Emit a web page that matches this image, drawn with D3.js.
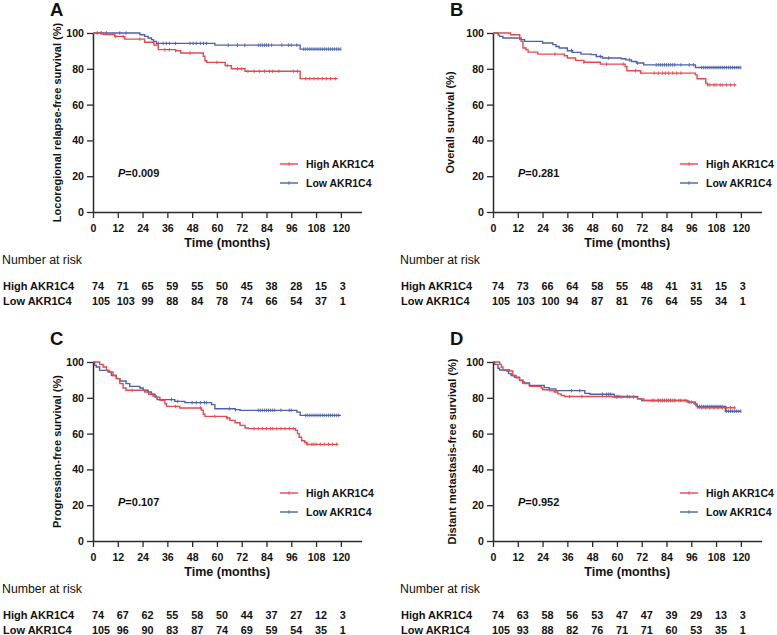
<!DOCTYPE html>
<html><head><meta charset="utf-8">
<script src="https://cdn.jsdelivr.net/npm/d3@7"></script>
<style>
body{margin:0;background:#fff;}
text{font-family:"Liberation Sans",Arial,Helvetica,sans-serif;}
</style></head><body>
<svg id="c" width="777" height="635"></svg>
<script>
// ---------- DATA ----------
const timeTicks = [0,12,24,36,48,60,72,84,96,108,120];
const yTicks = [0,20,40,60,80,100];
const groups = ["High AKR1C4","Low AKR1C4"];
const panelLetters = ["A","B","C","D"];
const yTitles = ["Locoregional relapse-free survival (%)","Overall survival (%)","Progression-free survival (%)","Distant metastasis-free survival (%)"];
const pValues = ["0.009","0.281","0.107","0.952"];

// number at risk
const riskA_high = [74,71,65,59,55,50,45,38,28,15,3];
const riskA_low  = [105,103,99,88,84,78,74,66,54,37,1];
const riskB_high = [74,73,66,64,58,55,48,41,31,15,3];
const riskB_low  = [105,103,100,94,87,81,76,64,55,34,1];
const riskC_high = [74,67,62,55,58,50,44,37,27,12,3];
const riskC_low  = [105,96,90,83,87,74,69,59,54,35,1];
const riskD_high = [74,63,58,56,53,47,47,39,29,13,3];
const riskD_low  = [105,93,88,82,76,71,71,60,53,35,1];

// KM steps [month, survival %] and last follow-up month
const A_high = [[0,100],[4.9,99.2],[10.5,98.1],[15.4,96.6],[25,94.8],[29.5,93.3],[31.6,90.7],[40,90.1],[42.5,88.8],[53.4,87],[54.2,84.5],[55,83.6],[64,81.8],[67,80],[73.6,78.6],[100.3,74.5]];
const A_high_end = 118.5;
const A_low = [[0,100],[22.7,99],[25,98.1],[26.7,97.2],[28.3,96.3],[29.3,95.3],[30.7,94.2],[59,93.2],[100.3,91]];
const A_low_end = 120;
const B_high = [[0,100],[8.5,99],[12.9,97.2],[13.7,95.3],[14.5,91.6],[16,90.6],[17,89.3],[21.7,88.2],[34.6,87.3],[36,86],[40,84.7],[44,83.7],[52,82.6],[64,81.3],[64.8,78.9],[71.5,77.6],[98,76.6],[98.8,74.4],[103,72],[103.8,71]];
const B_high_end = 117.8;
const B_low = [[0,100],[2.5,98.8],[3.2,98.1],[4.8,97.2],[13,96.3],[15.3,95.3],[24,94.4],[29,93.5],[30.5,92.5],[32,91.6],[36,90.1],[38.5,89.2],[42.6,88.2],[47.5,87.9],[50,86.9],[53,86],[62,85.6],[64.3,85],[67,84.1],[69.5,83.2],[73,82.2],[98,80.7]];
const B_low_end = 120;
const C_high = [[0,100],[3.2,98.7],[4.9,97.2],[6.5,95.3],[8,94.4],[9.7,92.5],[11.3,90.7],[13,87.9],[14.6,85.5],[16,84.2],[25,83.2],[27,82],[29,81],[30.7,80.4],[32.4,78.6],[34.8,76.7],[35.6,75.2],[42,74.3],[52.6,73],[53.4,70.8],[54.2,69.6],[64.7,68.7],[66.3,67.4],[68.8,66.1],[71.2,64.6],[73.6,63.1],[75.2,62.8],[98,61.8],[99,60],[99.8,58],[101,56],[102.5,55],[103.5,54]];
const C_high_end = 118.8;
const C_low = [[0,100],[0.8,98.1],[1.6,97.2],[3.2,95.3],[7.3,94.4],[8.9,92.5],[11.3,90.7],[13,89.4],[16,87.9],[17.8,86.4],[22.7,85.5],[24.3,84.2],[26.7,83.2],[28.3,82],[30,80.4],[31,79],[39.6,78],[44.5,77.3],[57.4,76.2],[59,73.9],[68.8,73.4],[71.2,73],[98.7,72],[100.3,70.2]];
const C_low_end = 120;
const D_high = [[0,100],[3.2,98.7],[4,97.2],[4.8,95.7],[8,95],[9.6,92.5],[11.2,91.2],[12.9,89.7],[14.5,88.8],[15.3,87.9],[17.7,86.4],[23.3,85.5],[24.1,84.5],[27.3,84.1],[29.7,83.2],[31.4,82.2],[33,81.3],[34.6,80.7],[57.9,80.4],[70,79.4],[73,78.5],[94,77.6],[97.3,76.6],[98.1,75.7],[99,74.4]];
const D_high_end = 117.4;
const D_low = [[0,100],[0.8,98.7],[2.4,96.5],[3.2,95.5],[6.7,95],[7.5,93.5],[8.8,92.5],[10.4,91.5],[12.8,89.8],[14.4,88.3],[17.6,86.9],[24.8,85.7],[27.2,85],[30.4,84],[44.5,82.5],[47,82],[58.7,80.7],[70,79.4],[72,78.5],[94.4,77.6],[98,76.6],[98.8,75.1],[112.5,72.5]];
const D_low_end = 120;

// censoring times (months)
const A_high_cens = [4,11,14.6,22.7,34.8,37,40,47,60,65,70,72,75,78,80.5,83,85.5,87,90,97,99,103,105,107,109,111,113,115,117.5];
const A_low_cens = [2,4,6.5,13,16,31.6,34,35.5,37,40,47,48.5,50,52,53.5,55,65.5,70,73.5,80,81,82,83,84,85,86.5,91.4,94.6,96,98.7,102,103,104,105,106,107,108,109,110,111,112,113,114,115,116,117,118,119,120];
const B_high_cens = [30,44,55,63,69,78,80,82,83.5,85,87,89,91,104,105,107,108,110,111,113,115,117];
const B_low_cens = [38,52,56,66,70,79,80,81,82,83,84,85,86,87,88,91,95,97,101,102,103,104,105,106,107,108,109,110,111,112,113,114,115,116,117,118,119,120];
const C_high_cens = [19,40,52,59,65,78,80,82,84,86,87,89,91,93,95,97,104,106,107,108,110,112,114,116,118];
const C_low_cens = [38,41,48,50,52,54,55,66,69,80,81,82,83,84,85,86,87,88,91,95,96,103,104,105,106,107,108,109,110,111,112,113,114,115,116,117,118,119];
const D_high_cens = [37,43,60,62,66,68,77,80,82,84,86,88,90,93,96,101,103,105,107,109,111,113,115,117];
const D_low_cens = [38,42,53,55,56,57,59,60,61,65,78,80,81,82,83,84,85,86,87,88,91,95,99,100,101,102,103,104,105,106,107,108,109,110,111,113,114,115,116,117,118,119,120];

// ---------- LAYOUT ----------
const colors = ["#e5484d","#4b62aa"];
const panels = [
  {ox:93,  oy:33,  titleX:57,  leftX:2,   high:A_high, highEnd:A_high_end, low:A_low, lowEnd:A_low_end, hc:A_high_cens, lc:A_low_cens, rh:riskA_high, rl:riskA_low},
  {ox:493, oy:33,  titleX:450, leftX:400, high:B_high, highEnd:B_high_end, low:B_low, lowEnd:B_low_end, hc:B_high_cens, lc:B_low_cens, rh:riskB_high, rl:riskB_low},
  {ox:93,  oy:362, titleX:57,  leftX:2,   high:C_high, highEnd:C_high_end, low:C_low, lowEnd:C_low_end, hc:C_high_cens, lc:C_low_cens, rh:riskC_high, rl:riskC_low},
  {ox:493, oy:362, titleX:452, leftX:400, high:D_high, highEnd:D_high_end, low:D_low, lowEnd:D_low_end, hc:D_high_cens, lc:D_low_cens, rh:riskD_high, rl:riskD_low}
];
const plotH = 179, plotW = 268.5;
const axisColor = "#2b2b2b";

const svg = d3.select("#c");

function survAt(steps, t){
  let s = steps[0][1];
  for (const d of steps){ if (d[0] <= t) s = d[1]; else break; }
  return s;
}

panels.forEach((p, i) => {
  const x = d3.scaleLinear().domain([0,130]).range([0, plotW]);
  const y = d3.scaleLinear().domain([0,100]).range([plotH, 0]);
  const g = svg.append("g").attr("transform", `translate(${p.ox},${p.oy})`);

  // panel letter
  svg.append("text").attr("x", p.ox - 43).attr("y", p.oy - 17)
    .attr("font-size", 18.5).attr("font-weight", "bold").attr("fill","#111").text(panelLetters[i]);

  // axes
  const xa = g.append("g").attr("transform", `translate(0,${plotH})`)
    .call(d3.axisBottom(x).tickValues(timeTicks).tickSize(6).tickSizeOuter(0).tickPadding(6));
  const ya = g.append("g")
    .call(d3.axisLeft(y).tickValues(yTicks).tickSize(6).tickSizeOuter(0).tickPadding(3));
  [xa, ya].forEach(a => {
    a.select(".domain").attr("stroke", axisColor).attr("stroke-width", 1.5);
    a.selectAll(".tick line").attr("stroke", axisColor).attr("stroke-width", 1.3);
    a.selectAll("text").attr("font-size", 10.6).attr("font-weight","bold").attr("fill","#111")
      .attr("font-family", '"Liberation Sans",Arial,sans-serif');
  });

  // y title
  svg.append("text").attr("transform", `translate(${p.titleX},${p.oy + plotH/2}) rotate(-90)`)
    .attr("text-anchor","middle").attr("dominant-baseline","central")
    .attr("font-size", 11).attr("font-weight","bold").attr("fill","#111").text(yTitles[i]);

  // x title
  g.append("text").attr("x", x(65)).attr("y", plotH + 35)
    .attr("text-anchor","middle").attr("font-size", 12.5).attr("font-weight","bold").attr("fill","#111")
    .text("Time (months)");

  // curves
  const line = d3.line().x(d => x(d[0])).y(d => y(d[1])).curve(d3.curveStepAfter);
  const series = [
    {steps:p.high, end:p.highEnd, cens:p.hc, color:colors[0]},
    {steps:p.low,  end:p.lowEnd,  cens:p.lc, color:colors[1]}
  ];
  [series[1], series[0]].forEach(s => {
    const pts = s.steps.concat([[s.end, s.steps[s.steps.length-1][1]]]);
    g.append("path").datum(pts).attr("d", line).attr("fill","none")
      .attr("stroke", s.color).attr("stroke-width", 1.4);
    g.selectAll(null).data(s.cens).enter().append("line")
      .attr("x1", d => x(d)).attr("x2", d => x(d))
      .attr("y1", d => y(survAt(s.steps, d)) - 1.8)
      .attr("y2", d => y(survAt(s.steps, d)) + 1.8)
      .attr("stroke", s.color).attr("stroke-width", 0.9);
  });

  // legend
  groups.forEach((name, k) => {
    const ly = 131 + k*19;
    g.append("line").attr("x1", 187).attr("x2", 205).attr("y1", ly).attr("y2", ly)
      .attr("stroke", colors[k]).attr("stroke-width", 1.4);
    g.append("line").attr("x1", 196).attr("x2", 196).attr("y1", ly-1.8).attr("y2", ly+1.8)
      .attr("stroke", colors[k]).attr("stroke-width", 0.9);
    g.append("text").attr("x", 213).attr("y", ly).attr("dominant-baseline","central")
      .attr("font-size", 10.5).attr("font-weight","bold").attr("fill","#111").text(name);
  });

  // p value
  const pt = g.append("text").attr("x", 25).attr("y", 144)
    .attr("font-size", 11).attr("font-weight","bold").attr("fill","#111");
  pt.append("tspan").attr("font-style","italic").text("P");
  pt.append("tspan").text("=" + pValues[i]);

  // number at risk
  svg.append("text").attr("x", p.leftX).attr("y", p.oy + plotH + 52)
    .attr("font-size", 12.3).attr("fill","#111").text("Number at risk");
  [p.rh, p.rl].forEach((vals, k) => {
    const ry = p.oy + plotH + 78 + k*15;
    svg.append("text").attr("x", p.leftX + 1).attr("y", ry)
      .attr("font-size", 11).attr("font-weight","bold").attr("fill","#111").text(groups[k]);
    svg.selectAll(null).data(vals).enter().append("text")
      .attr("x", (d, j) => p.ox + x(timeTicks[j]) - 1)
      .attr("y", ry)
      .attr("font-size", 10.8).attr("font-weight","bold").attr("fill","#111")
      .text(d => d);
  });
});
</script>
</body></html>
